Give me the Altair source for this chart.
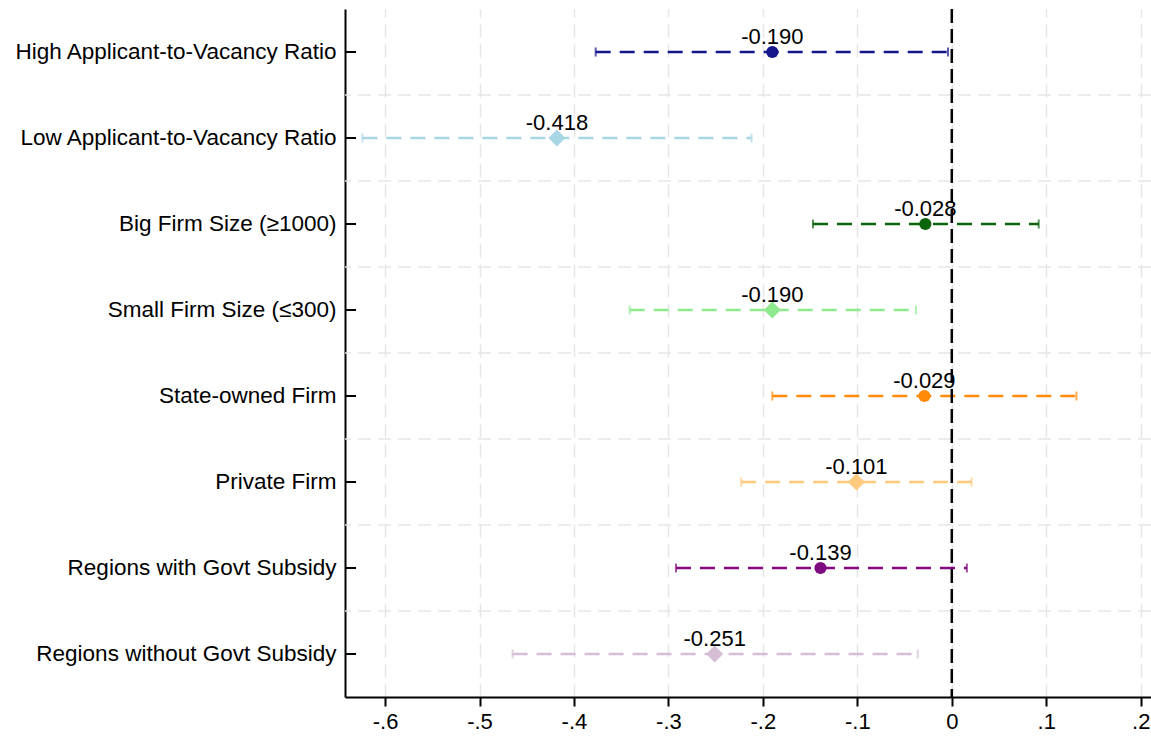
import altair as alt
import pandas as pd

categories = [
    "High Applicant-to-Vacancy Ratio",
    "Low Applicant-to-Vacancy Ratio",
    "Big Firm Size (≥1000)",
    "Small Firm Size (≤300)",
    "State-owned Firm",
    "Private Firm",
    "Regions with Govt Subsidy",
    "Regions without Govt Subsidy",
]
estimates = [-0.190, -0.418, -0.028, -0.190, -0.029, -0.101, -0.139, -0.251]
ci_low = [-0.377, -0.624, -0.147, -0.341, -0.190, -0.223, -0.292, -0.465]
ci_high = [-0.004, -0.212, 0.092, -0.038, 0.132, 0.021, 0.016, -0.036]

colors = ["#15168c", "#a9d6e5", "#0b650b", "#8fe98f", "#ff8a0a", "#ffc97e", "#800a80", "#d6bdd6"]
shapes = ["circle", "diamond", "circle", "diamond", "circle", "diamond", "circle", "diamond"]
sizes = [150, 290, 150, 290, 150, 290, 150, 290]

x_ticks = [-0.6, -0.5, -0.4, -0.3, -0.2, -0.1, 0.0, 0.1, 0.2]
x_domain = [-0.6424, 0.2109]
ref_line = [0.0]

df = pd.DataFrame({
    "cat": categories,
    "est": estimates,
    "lo": ci_low,
    "hi": ci_high,
    "sz": sizes,
})
df["label"] = [f"{v:.3f}" for v in estimates]
grid_df = pd.DataFrame({"cat": categories[1:]})
ref_df = pd.DataFrame({"x": ref_line})

FONT = "Liberation Sans"
W, H = 806, 688

xscale = alt.Scale(domain=x_domain, nice=False, zero=False)
yscale = alt.Scale(domain=categories, paddingInner=0, paddingOuter=0)
color_scale = alt.Scale(domain=categories, range=colors)

y_enc = alt.Y(
    "cat:N",
    sort=categories,
    scale=yscale,
    axis=alt.Axis(
        title=None, ticks=False, grid=False, domainColor="black", domainWidth=2,
        labelFont=FONT, labelFontSize=22.5, labelColor="black", labelPadding=9,
        labelLimit=400,
    ),
)

x_enc = alt.X(
    "lo:Q",
    scale=xscale,
    axis=alt.Axis(
        title=None, values=x_ticks,
        labelExpr="datum.value == 0 ? '0' : (datum.value < 0 ? '-' : '') + replace(format(abs(datum.value), '.1f'), '0.', '.')",
        grid=True, gridColor="#e6e6e6", gridDash=[13, 7], gridWidth=1.5,
        tickColor="black", tickWidth=2, tickSize=9,
        domainColor="black", domainWidth=2,
        labelFont=FONT, labelFontSize=22, labelColor="black", labelPadding=5,
    ),
)

base = alt.Chart(df)

ci = base.mark_rule(strokeDash=[15, 9], strokeWidth=2.3).encode(
    x=x_enc,
    x2="hi:Q",
    y=y_enc,
    color=alt.Color("cat:N", scale=color_scale, legend=None),
)

cap_lo = base.mark_tick(thickness=2, size=9).encode(
    x=alt.X("lo:Q", scale=xscale),
    y=alt.Y("cat:N", sort=categories, scale=yscale),
    color=alt.Color("cat:N", scale=color_scale, legend=None),
)
cap_hi = base.mark_tick(thickness=2, size=9).encode(
    x=alt.X("hi:Q", scale=xscale),
    y=alt.Y("cat:N", sort=categories, scale=yscale),
    color=alt.Color("cat:N", scale=color_scale, legend=None),
)

hgrid = alt.Chart(grid_df).mark_rule(
    color="#e6e6e6", strokeDash=[13, 7], strokeWidth=1.5
).encode(
    y=alt.Y("cat:N", sort=categories, scale=yscale, bandPosition=0),
)

ytick = base.mark_rule(color="black", strokeWidth=2).encode(
    y=alt.Y("cat:N", sort=categories, scale=yscale),
    x=alt.value(0),
    x2=alt.value(11),
)

zero = alt.Chart(ref_df).mark_rule(
    color="black", strokeDash=[14, 6], strokeWidth=2.5
).encode(x=alt.X("x:Q", scale=xscale))

points = base.mark_point(filled=True, opacity=1).encode(
    x=alt.X("est:Q", scale=xscale),
    y=alt.Y("cat:N", sort=categories, scale=yscale),
    color=alt.Color("cat:N", scale=color_scale, legend=None),
    shape=alt.Shape("cat:N", scale=alt.Scale(domain=categories, range=shapes), legend=None),
    size=alt.Size("sz:Q", scale=None, legend=None),
)

labels = base.mark_text(
    font=FONT, fontSize=22, color="black", baseline="alphabetic", dy=-8
).encode(
    x=alt.X("est:Q", scale=xscale),
    y=alt.Y("cat:N", sort=categories, scale=yscale),
    text="label:N",
)

chart = alt.layer(hgrid, ci, cap_lo, cap_hi, zero, ytick, points, labels).properties(
    width=W,
    height=H,
    autosize=alt.AutoSizeParams(type="none"),
    padding={"left": 345, "top": 9, "right": 0, "bottom": 39},
    background="white",
).configure_view(strokeWidth=0)

chart.save("out.html", embed_options={"renderer": "svg", "actions": False})
